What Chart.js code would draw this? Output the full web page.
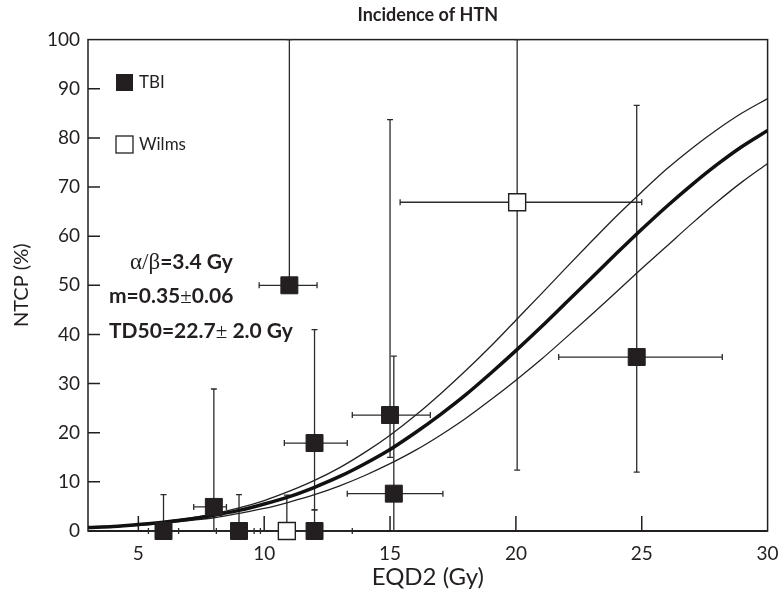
<!DOCTYPE html>
<html>
<head>
<meta charset="utf-8">
<script src="https://cdn.jsdelivr.net/npm/chart.js@4.4.1/dist/chart.umd.min.js"></script>
<style>
  html, body { margin: 0; padding: 0; background: #fff; }
</style>
</head>
<body>
<canvas id="htnChart" width="781" height="593"></canvas>
<script>
// axis ticks
const doseTicks = [5, 10, 15, 20, 25, 30];
const ntcpTicks = [0, 10, 20, 30, 40, 50, 60, 70, 80, 90, 100];

// fitted NTCP curve and its band at 1 Gy steps
const fitDose  = [3, 4, 5, 6, 7, 8, 9, 10, 11, 12, 13, 14, 15, 16, 17, 18, 19, 20, 21, 22, 23, 24, 25, 26, 27, 28, 29, 30];
const fitNtcp  = [0.7, 0.9, 1.3, 1.8, 2.4, 3.2, 4.2, 5.5, 7.0, 8.9, 11.1, 13.7, 16.6, 20.0, 23.7, 27.7, 32.1, 36.7,
                  41.5, 46.5, 51.5, 56.5, 61.4, 66.1, 70.5, 74.6, 78.3, 81.5];
const fitUpper = [0.65, 0.9, 1.35, 1.9, 2.6, 3.5, 4.7, 6.2, 8.1, 10.3, 12.9, 16.0, 19.5, 23.5, 27.9, 32.6, 37.6, 42.9,
                  48.2, 53.6, 58.9, 64.1, 69.0, 73.7, 77.9, 81.7, 85.1, 88.0];
const fitLower = [0.6, 0.8, 1.15, 1.55, 2.1, 2.7, 3.6, 4.6, 5.9, 7.4, 9.2, 11.3, 13.7, 16.4, 19.5, 22.9, 26.7, 30.7,
                  34.9, 39.4, 44.0, 48.7, 53.4, 58.0, 62.6, 67.0, 71.1, 74.8];

// TBI points with error ranges
const tbiDose     = [6, 8, 9, 11, 12, 12, 15, 15.15, 24.8];
const tbiNtcp     = [0, 4.9, 0, 50, 17.9, 0, 23.6, 7.6, 35.4];
const tbiNtcpLow  = [0, 0, 0, 50, 4.3, 0, 15, 0, 12];
const tbiNtcpHigh = [7.4, 28.9, 7.4, 100, 41, 4.3, 83.7, 35.6, 86.6];
const tbiDoseLow  = [5.4, 7.2, 8.1, 9.8, 10.8, 10.6, 13.5, 13.3, 21.7];
const tbiDoseHigh = [6.6, 8.5, 9.6, 12.1, 13.3, 13.5, 16.6, 17.1, 28.2];

// Wilms points with error ranges
const wilmsDose     = [10.9, 20.05];
const wilmsNtcp     = [0, 66.9];
const wilmsNtcpLow  = [0, 12.4];
const wilmsNtcpHigh = [7.3, 100];
const wilmsDoseLow  = [9.85, 15.4];
const wilmsDoseHigh = [12.0, 25.0];

const ink = '#231f20';

function toPoints(xs, ys) {
    return xs.map((x, i) => ({ x: x, y: ys[i] }));
}

function withErrors(xs, ys, xl, xh, yl, yh) {
    return xs.map((x, i) => ({ x: x, y: ys[i], xMin: xl[i], xMax: xh[i], yMin: yl[i], yMax: yh[i] }));
}

// draw a line of text made of several font runs
function drawRuns(ctx, x, y, runs) {
    ctx.textBaseline = 'alphabetic';
    ctx.textAlign = 'left';
    runs.forEach(r => {
        ctx.font = r.font;
        ctx.fillText(r.text, x, y);
        x += ctx.measureText(r.text).width;
    });
}

const framePlugin = {
    id: 'frameAndErrors',
    beforeDatasetsDraw(chart) {
        const { ctx, chartArea: a, scales: { x, y } } = chart;
        ctx.save();
        ctx.strokeStyle = ink;

        // inward tick marks
        ctx.lineWidth = 1.5;
        ctx.beginPath();
        ntcpTicks.slice(1, -1).forEach(v => {
            const py = y.getPixelForValue(v);
            ctx.moveTo(a.left, py);
            ctx.lineTo(a.left + 12, py);
        });
        doseTicks.slice(0, -1).forEach(v => {
            const px = x.getPixelForValue(v);
            ctx.moveTo(px, a.bottom);
            ctx.lineTo(px, a.bottom - 15);
        });
        ctx.stroke();

        // frame
        ctx.lineWidth = 1.5;
        ctx.strokeRect(a.left, a.top, a.right - a.left, a.bottom - a.top);
        ctx.lineWidth = 2.2;
        ctx.beginPath();
        ctx.moveTo(a.left, a.bottom);
        ctx.lineTo(a.right, a.bottom);
        ctx.stroke();

        // error bars of the marker series
        ctx.lineWidth = 1.3;
        ctx.strokeStyle = '#2b2b2b';
        chart.data.datasets.forEach(ds => {
            if (!ds.errorBars) return;
            ds.data.forEach(p => {
                const px = x.getPixelForValue(p.x), py = y.getPixelForValue(p.y);
                const x0 = x.getPixelForValue(p.xMin), x1 = x.getPixelForValue(p.xMax);
                const y0 = y.getPixelForValue(p.yMin), y1 = y.getPixelForValue(p.yMax);
                ctx.beginPath();
                ctx.moveTo(px, y0); ctx.lineTo(px, y1);
                ctx.moveTo(px - 3, y1); ctx.lineTo(px + 3, y1);
                ctx.moveTo(px - 3, y0); ctx.lineTo(px + 3, y0);
                ctx.moveTo(x0, py); ctx.lineTo(x1, py);
                ctx.moveTo(x0, py - 3); ctx.lineTo(x0, py + 3);
                ctx.moveTo(x1, py - 3); ctx.lineTo(x1, py + 3);
                ctx.stroke();
            });
        });
        ctx.restore();
    },
    afterDraw(chart) {
        const { ctx } = chart;
        ctx.save();
        ctx.fillStyle = ink;
        ctx.strokeStyle = ink;

        // legend inside the plot
        ctx.fillRect(116, 74, 17, 17);
        ctx.lineWidth = 1.3;
        ctx.fillStyle = '#fff';
        ctx.fillRect(116, 136, 17, 17);
        ctx.strokeRect(116, 136, 17, 17);
        ctx.fillStyle = ink;
        ctx.font = '17px Lato';
        ctx.textBaseline = 'middle';
        ctx.fillText('TBI', 139, 83);
        ctx.fillText('Wilms', 139, 145);

        // fit parameters
        const bold = 'bold 21px Lato';
        const serif = '23px "Liberation Serif"';
        const pm = '21px "Liberation Serif"';
        drawRuns(ctx, 130, 269, [{ text: 'α/β', font: serif }, { text: '=3.4 Gy', font: bold }]);
        drawRuns(ctx, 109, 303, [{ text: 'm=0.35', font: bold }, { text: '±', font: pm }, { text: '0.06', font: bold }]);
        drawRuns(ctx, 109, 338, [{ text: 'TD50=22.7', font: bold }, { text: '± ', font: pm }, { text: '2.0 Gy', font: bold }]);
        ctx.restore();
    }
};

new Chart(document.getElementById('htnChart'), {
    type: 'scatter',
    data: {
        datasets: [
            {
                label: 'TBI',
                data: withErrors(tbiDose, tbiNtcp, tbiDoseLow, tbiDoseHigh, tbiNtcpLow, tbiNtcpHigh),
                errorBars: true,
                pointStyle: 'rect',
                pointRadius: 12,
                backgroundColor: ink,
                borderColor: ink,
                borderWidth: 1,
                clip: false,
                order: 0
            },
            {
                label: 'Wilms',
                data: withErrors(wilmsDose, wilmsNtcp, wilmsDoseLow, wilmsDoseHigh, wilmsNtcpLow, wilmsNtcpHigh),
                errorBars: true,
                pointStyle: 'rect',
                pointRadius: 12,
                backgroundColor: '#fff',
                borderColor: ink,
                borderWidth: 1.4,
                clip: false,
                order: 0
            },
            {
                type: 'line',
                data: toPoints(fitDose, fitNtcp),
                borderColor: '#111',
                borderWidth: 3.5,
                pointRadius: 0,
                cubicInterpolationMode: 'monotone',
                fill: false,
                order: 1
            },
            {
                type: 'line',
                data: toPoints(fitDose, fitUpper),
                borderColor: '#222',
                borderWidth: 1.3,
                pointRadius: 0,
                cubicInterpolationMode: 'monotone',
                fill: false,
                order: 1
            },
            {
                type: 'line',
                data: toPoints(fitDose, fitLower),
                borderColor: '#222',
                borderWidth: 1.3,
                pointRadius: 0,
                cubicInterpolationMode: 'monotone',
                fill: false,
                order: 1
            }
        ]
    },
    options: {
        responsive: false,
        animation: false,
        devicePixelRatio: 1,
        layout: { padding: { top: 0, right: 8, bottom: 0, left: 0 } },
        plugins: {
            legend: { display: false },
            tooltip: { enabled: false },
            title: {
                display: true,
                text: 'Incidence of HTN',
                fullSize: false,
                color: ink,
                font: { family: '"Liberation Sans Narrow", Lato', size: 18, weight: 'bold' },
                padding: { top: 4, bottom: 14 }
            }
        },
        scales: {
            x: {
                type: 'linear',
                min: 3,
                max: 30,
                afterBuildTicks: s => { s.ticks = doseTicks.map(v => ({ value: v })); },
                afterFit: s => { s.height = 62; s.paddingLeft = 0; s.paddingRight = 0; },
                grid: { display: false },
                border: { display: false },
                ticks: { color: ink, padding: 3, font: { family: 'Lato', size: 19 } },
                title: {
                    display: true,
                    text: 'EQD2 (Gy)',
                    color: ink,
                    font: { family: 'Lato', size: 24 },
                    padding: { top: 0, bottom: 1 }
                }
            },
            y: {
                min: 0,
                max: 100,
                afterBuildTicks: s => { s.ticks = ntcpTicks.map(v => ({ value: v })); },
                afterFit: s => { s.width = 88; },
                grid: { display: false },
                border: { display: false },
                ticks: { color: ink, padding: 0, font: { family: 'Lato', size: 19 } },
                title: {
                    display: true,
                    text: 'NTCP (%)',
                    color: ink,
                    font: { family: 'Lato', size: 20 },
                    padding: { top: 10, bottom: 0 }
                }
            }
        }
    },
    plugins: [framePlugin]
});
</script>
</body>
</html>
